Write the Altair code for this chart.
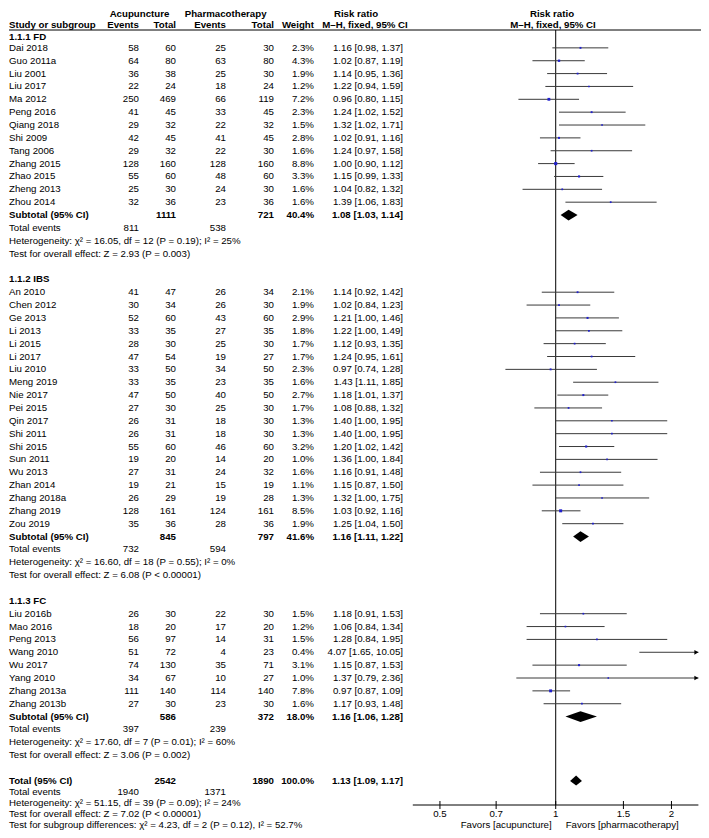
import altair as alt
import pandas as pd

FONT = "Liberation Sans"
FS = 9.7

# ---------------- data ----------------
fd_names = ["Dai 2018", "Guo 2011a", "Liu 2001", "Liu 2017", "Ma 2012", "Peng 2016", "Qiang 2018",
            "Shi 2009", "Tang 2006", "Zhang 2015", "Zhao 2015", "Zheng 2013", "Zhou 2014"]
fd_acu_ev = [58, 64, 36, 22, 250, 41, 29, 42, 29, 128, 55, 25, 32]
fd_acu_tot = [60, 80, 38, 24, 469, 45, 32, 45, 32, 160, 60, 30, 36]
fd_ph_ev = [25, 63, 25, 18, 66, 33, 22, 41, 22, 128, 48, 24, 23]
fd_ph_tot = [30, 80, 30, 24, 119, 45, 32, 45, 30, 160, 60, 30, 36]
fd_weight = [2.3, 4.3, 1.9, 1.2, 7.2, 2.3, 1.5, 2.8, 1.6, 8.8, 3.3, 1.6, 1.6]
fd_rr = [1.16, 1.02, 1.14, 1.22, 0.96, 1.24, 1.32, 1.02, 1.24, 1.00, 1.15, 1.04, 1.39]
fd_lo = [0.98, 0.87, 0.95, 0.94, 0.80, 1.02, 1.02, 0.91, 0.97, 0.90, 0.99, 0.82, 1.06]
fd_hi = [1.37, 1.19, 1.36, 1.59, 1.15, 1.52, 1.71, 1.16, 1.58, 1.12, 1.33, 1.32, 1.83]

ibs_names = ["An 2010", "Chen 2012", "Ge 2013", "Li 2013", "Li 2015", "Li 2017", "Liu 2010", "Meng 2019",
             "Nie 2017", "Pei 2015", "Qin 2017", "Shi 2011", "Shi 2015", "Sun 2011", "Wu 2013", "Zhan 2014",
             "Zhang 2018a", "Zhang 2019", "Zou 2019"]
ibs_acu_ev = [41, 30, 52, 33, 28, 47, 33, 33, 47, 27, 26, 26, 55, 19, 27, 19, 26, 128, 35]
ibs_acu_tot = [47, 34, 60, 35, 30, 54, 50, 35, 50, 30, 31, 31, 60, 20, 31, 21, 29, 161, 36]
ibs_ph_ev = [26, 26, 43, 27, 25, 19, 34, 23, 40, 25, 18, 18, 46, 14, 24, 15, 19, 124, 28]
ibs_ph_tot = [34, 30, 60, 35, 30, 27, 50, 35, 50, 30, 30, 30, 60, 20, 32, 19, 28, 161, 36]
ibs_weight = [2.1, 1.9, 2.9, 1.8, 1.7, 1.7, 2.3, 1.6, 2.7, 1.7, 1.3, 1.3, 3.2, 1.0, 1.6, 1.1, 1.3, 8.5, 1.9]
ibs_rr = [1.14, 1.02, 1.21, 1.22, 1.12, 1.24, 0.97, 1.43, 1.18, 1.08, 1.40, 1.40, 1.20, 1.36, 1.16, 1.15, 1.32, 1.03, 1.25]
ibs_lo = [0.92, 0.84, 1.00, 1.00, 0.93, 0.95, 0.74, 1.11, 1.01, 0.88, 1.00, 1.00, 1.02, 1.00, 0.91, 0.87, 1.00, 0.92, 1.04]
ibs_hi = [1.42, 1.23, 1.46, 1.49, 1.35, 1.61, 1.28, 1.85, 1.37, 1.32, 1.95, 1.95, 1.42, 1.84, 1.48, 1.50, 1.75, 1.16, 1.50]

fc_names = ["Liu 2016b", "Mao 2016", "Peng 2013", "Wang 2010", "Wu 2017", "Yang 2010", "Zhang 2013a", "Zhang 2013b"]
fc_acu_ev = [26, 18, 56, 51, 74, 34, 111, 27]
fc_acu_tot = [30, 20, 97, 72, 130, 67, 140, 30]
fc_ph_ev = [22, 17, 14, 4, 35, 10, 114, 23]
fc_ph_tot = [30, 20, 31, 23, 71, 27, 140, 30]
fc_weight = [1.5, 1.2, 1.5, 0.4, 3.1, 1.0, 7.8, 1.6]
fc_rr = [1.18, 1.06, 1.28, 4.07, 1.15, 1.37, 0.97, 1.17]
fc_lo = [0.91, 0.84, 0.84, 1.65, 0.87, 0.79, 0.87, 0.93]
fc_hi = [1.53, 1.34, 1.95, 10.05, 1.53, 2.36, 1.09, 1.48]

group_titles = ["1.1.1 FD", "1.1.2 IBS", "1.1.3 FC"]
sub_acu_tot = [1111, 845, 586]
sub_ph_tot = [721, 797, 372]
sub_weight = ["40.4%", "41.6%", "18.0%"]
sub_rr = [1.08, 1.16, 1.16]
sub_lo = [1.03, 1.11, 1.06]
sub_hi = [1.14, 1.22, 1.28]
sub_acu_events = [811, 732, 397]
sub_ph_events = [538, 594, 239]
sub_het = ["Heterogeneity: χ² = 16.05, df = 12 (P = 0.19); I² = 25%",
           "Heterogeneity: χ² = 16.60, df = 18 (P = 0.55); I² = 0%",
           "Heterogeneity: χ² = 17.60, df = 7 (P = 0.01); I² = 60%"]
sub_test = ["Test for overall effect: Z = 2.93 (P = 0.003)",
            "Test for overall effect: Z = 6.08 (P < 0.00001)",
            "Test for overall effect: Z = 3.06 (P = 0.002)"]

total_acu_tot, total_ph_tot, total_weight = 2542, 1890, "100.0%"
total_rr, total_lo, total_hi = 1.13, 1.09, 1.17
total_acu_events, total_ph_events = 1940, 1371
total_lines = ["Heterogeneity: χ² = 51.15, df = 39 (P = 0.09); I² = 24%",
               "Test for overall effect: Z = 7.02 (P < 0.00001)",
               "Test for subgroup differences: χ² = 4.23, df = 2 (P = 0.12), I² = 52.7%"]

axis_ticks = [0.5, 0.7, 1, 1.5, 2]
axis_labels = ["0.5", "0.7", "1", "1.5", "2"]
x_domain = [0.425, 2.35]

# ---------------- build tables ----------------
groups = [
    (fd_names, fd_acu_ev, fd_acu_tot, fd_ph_ev, fd_ph_tot, fd_weight, fd_rr, fd_lo, fd_hi),
    (ibs_names, ibs_acu_ev, ibs_acu_tot, ibs_ph_ev, ibs_ph_tot, ibs_weight, ibs_rr, ibs_lo, ibs_hi),
    (fc_names, fc_acu_ev, fc_acu_tot, fc_ph_ev, fc_ph_tot, fc_weight, fc_rr, fc_lo, fc_hi),
]

text_rows = []
study_rows = []
diamond_rows = []
DH = 0.42  # diamond half height (rows)


def rrtxt(r, l, h):
    return f"{r:.2f} [{l:.2f}, {h:.2f}]"


def add(row, name="", ae="", at="", pe="", pt="", w="", rr="", bold=False):
    text_rows.append(dict(row=row, name=name, ae=str(ae), at=str(at), pe=str(pe), pt=str(pt),
                          w=w, rr=rr, bold=bold))


def add_diamond(did, row, r, l, h):
    diamond_rows.append(dict(id=did, x=l, y1=row, y2=row))
    diamond_rows.append(dict(id=did, x=r, y1=row - DH, y2=row + DH))
    diamond_rows.append(dict(id=did, x=h, y1=row, y2=row))


row = 2
for gi, g in enumerate(groups):
    names, ae, at, pe, pt, w, rr, lo, hi = g
    add(row, name=group_titles[gi], bold=True)
    row += 1
    for i in range(len(names)):
        add(row, names[i], ae[i], at[i], pe[i], pt[i], f"{w[i]:.1f}%", rrtxt(rr[i], lo[i], hi[i]))
        study_rows.append(dict(row=row, rr=rr[i], lo=lo[i], hi=hi[i], w=w[i]))
        row += 1
    add(row, "Subtotal (95% CI)", "", sub_acu_tot[gi], "", sub_ph_tot[gi], sub_weight[gi],
        rrtxt(sub_rr[gi], sub_lo[gi], sub_hi[gi]), bold=True)
    add_diamond(gi, row, sub_rr[gi], sub_lo[gi], sub_hi[gi])
    row += 1
    add(row, "Total events", sub_acu_events[gi], "", sub_ph_events[gi])
    row += 1
    add(row, sub_het[gi])
    row += 1
    add(row, sub_test[gi])
    row += 2

total_row = row
add(row, "Total (95% CI)", "", total_acu_tot, "", total_ph_tot, total_weight,
    rrtxt(total_rr, total_lo, total_hi), bold=True)
add_diamond(9, row, total_rr, total_lo, total_hi)
row += 1
add(row, "Total events", total_acu_events, "", total_ph_events)
row += 1
for line in total_lines:
    add(row, line)
    row += 1
last_row = row - 1

tdf = pd.DataFrame(text_rows)
sdf = pd.DataFrame(study_rows)
ddf = pd.DataFrame(diamond_rows)

# ---------------- scales ----------------
W, H = 693, 822
ROW_H = 12.86
Y2 = 27.0
YS = alt.Scale(domain=[0, 1, 2, 3, total_row, last_row],
               range=[5.6, 16.8, 28.8, Y2 + ROW_H, Y2 + ROW_H * (total_row - 2), 816.5],
               nice=False, zero=False)
XS = alt.Scale(type="log", domain=x_domain, range=[404.8, 690.4], nice=False)
AXIS_Y = 797
HDR_LINE_Y = 22


def Yf(f="row"):
    return alt.Y(f"{f}:Q", scale=YS, axis=None)


def Xf(f):
    return alt.X(f"{f}:Q", scale=XS, axis=None)


def col_layers(field, x, align):
    out = []
    for b in (True, False):
        cond = "datum.bold" if b else "!datum.bold"
        out.append(alt.Chart(tdf).transform_filter(f"datum['{field}'] != ''").transform_filter(cond).mark_text(
            align=align, baseline="middle", font=FONT, fontSize=FS, color="#000000",
            fontWeight="bold" if b else "normal"
        ).encode(x=alt.value(x), y=Yf(), text=f"{field}:N"))
    return out


layers = []
layers += col_layers("name", 1, "left")
layers += col_layers("ae", 131, "right")
layers += col_layers("at", 168, "right")
layers += col_layers("pe", 218, "right")
layers += col_layers("pt", 266, "right")
layers += col_layers("w", 306, "right")
layers += col_layers("rr", 395, "right")

# header rows
hdr = [(0, "Acupuncture", 131.5, "center"), (0, "Pharmacotherapy", 217.6, "center"),
       (0, "Risk ratio", 348, "center"), (0, "Risk ratio", 544, "center"),
       (1, "Study or subgroup", 1, "left"), (1, "Events", 131, "right"), (1, "Total", 168, "right"),
       (1, "Events", 218, "right"), (1, "Total", 266, "right"), (1, "Weight", 306, "right"),
       (1, "M–H, fixed, 95% CI", 357, "center"), (1, "M–H, fixed, 95% CI", 545, "center")]
for r, t, x, a in hdr:
    layers.append(alt.Chart(pd.DataFrame(dict(row=[r], t=[t]))).mark_text(
        align=a, baseline="middle", font=FONT, fontSize=FS, fontWeight="bold", color="#000000"
    ).encode(x=alt.value(x), y=Yf(), text="t:N"))

# header underline
layers.append(alt.Chart(pd.DataFrame(dict(a=[0]))).mark_rule(color="#000000", strokeWidth=1).encode(
    x=alt.value(1), x2=alt.value(W), y=alt.value(HDR_LINE_Y)))

# reference line at 1
layers.append(alt.Chart(pd.DataFrame(dict(v=[1.0]))).mark_rule(color="#000000", strokeWidth=1).encode(
    x=Xf("v"), y=alt.value(HDR_LINE_Y), y2=alt.value(AXIS_Y)))

# whiskers
dmax = x_domain[1]
layers.append(alt.Chart(sdf).transform_calculate(hic=f"min(datum.hi, {dmax})").mark_rule(
    color="#3a3a3a", strokeWidth=1).encode(x=Xf("lo"), x2="hic:Q", y=Yf()))
# arrow heads
layers.append(alt.Chart(sdf).transform_filter(f"datum.hi > {dmax}").transform_calculate(
    hic=f"{dmax}").mark_point(shape="triangle-right", filled=True, size=22, color="#000000", opacity=1,
                              xOffset=-2).encode(x=Xf("hic"), y=Yf()))
# study squares
layers.append(alt.Chart(sdf).transform_calculate(sz="1.5 + datum.w * 0.9").mark_square(
    color="#2020cc", opacity=1).encode(x=Xf("rr"), y=Yf(), size=alt.Size("sz:Q", scale=None, legend=None)))
# diamonds
layers.append(alt.Chart(ddf).mark_area(color="#000000", orient="vertical", opacity=1).encode(
    x=Xf("x"), y=Yf("y1"), y2="y2:Q", detail="id:N"))

# axis
layers.append(alt.Chart(pd.DataFrame(dict(a=[x_domain[0]], b=[x_domain[1]]))).mark_rule(
    color="#000000", strokeWidth=1).encode(x=Xf("a"), x2="b:Q", y=alt.value(AXIS_Y)))
tdf_ticks = pd.DataFrame(dict(v=axis_ticks, lab=axis_labels))
layers.append(alt.Chart(tdf_ticks).mark_rule(color="#000000", strokeWidth=1).encode(
    x=Xf("v"), y=alt.value(AXIS_Y - 4), y2=alt.value(AXIS_Y + 4)))
layers.append(alt.Chart(tdf_ticks).mark_text(
    align="center", baseline="middle", font=FONT, fontSize=FS, color="#000000").encode(
    x=Xf("v"), y=alt.value(AXIS_Y + 9), text="lab:N"))
fav = pd.DataFrame(dict(v=[1.0, 1.0], t=["Favors [acupuncture]", "Favors [pharmacotherapy]"],
                        a=["r", "l"]))
layers.append(alt.Chart(fav).transform_filter("datum.a == 'r'").mark_text(
    align="right", baseline="middle", font=FONT, fontSize=FS, color="#000000", dx=-4).encode(
    x=Xf("v"), y=alt.value(AXIS_Y + 19.5), text="t:N"))
layers.append(alt.Chart(fav).transform_filter("datum.a == 'l'").mark_text(
    align="left", baseline="middle", font=FONT, fontSize=FS, color="#000000", dx=10).encode(
    x=Xf("v"), y=alt.value(AXIS_Y + 19.5), text="t:N"))

chart = alt.layer(*layers).properties(width=W, height=H, padding=0, autosize="none",
                                      background="#ffffff").configure_view(stroke=None)

chart.save("out.html", embed_options={"renderer": "svg", "actions": False})
